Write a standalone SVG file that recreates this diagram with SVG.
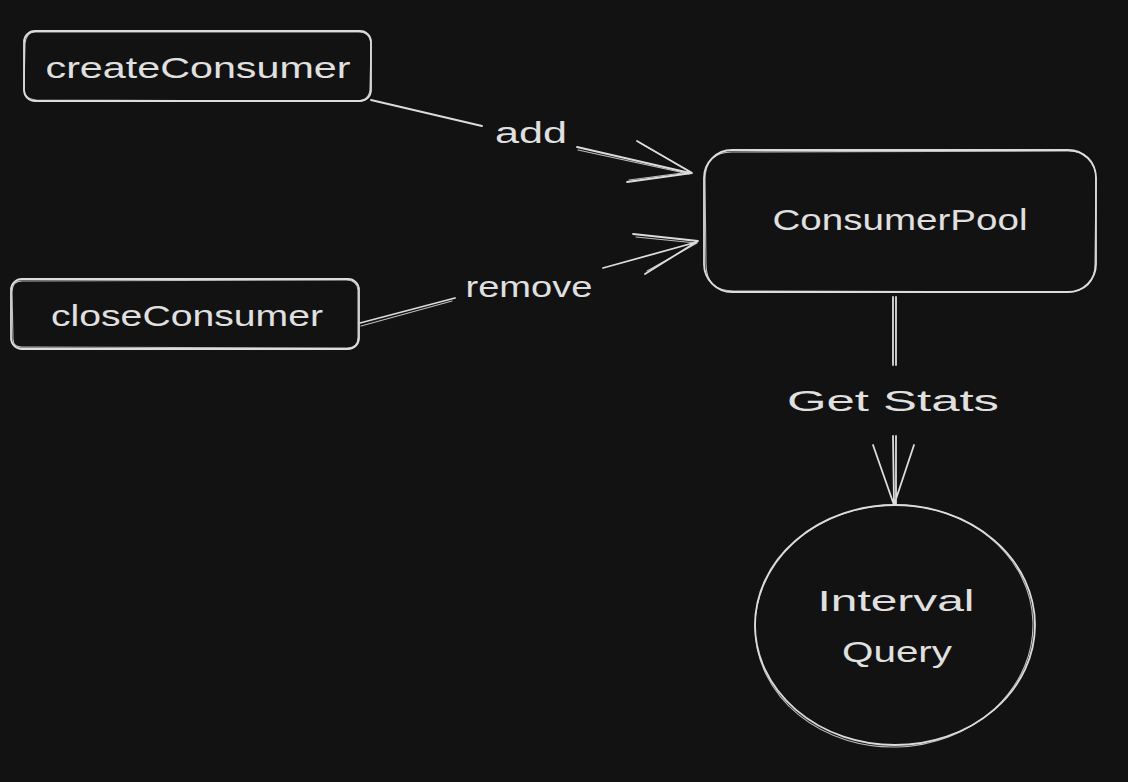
<svg xmlns="http://www.w3.org/2000/svg" width="1128" height="782" viewBox="0 0 1128 782">
<style>
.bg{fill:#121212}
.s{fill:none;stroke:#dcdcdc;stroke-width:1.8;stroke-linecap:round;stroke-linejoin:round}
.s2{fill:none;stroke:#dcdcdc;stroke-width:1.1;stroke-linecap:round;stroke-linejoin:round;opacity:.85}
.t{font-family:"Liberation Sans",Arial,sans-serif;fill:#e0e0e0;font-size:30px;text-anchor:middle;dominant-baseline:central}
</style>
<rect class="bg" x="0" y="0" width="1128" height="782"/>
<g id="createConsumer">
<rect class="s" x="24" y="31" width="347" height="70" rx="11"/>
<path class="s2" d="M35 32 Q26 32 25 44 L24 90 Q25 99 36 100 L358 101 Q370 100 370 88 L371 44 Q370 31 357 32 Z"/>
<text class="t" x="198" y="67" textLength="305" lengthAdjust="spacingAndGlyphs">createConsumer</text>
</g>
<g id="closeConsumer">
<rect class="s" x="11" y="279" width="348" height="70" rx="11"/>
<path class="s2" d="M22 281 Q12 281 12 292 L13 339 Q13 348 24 347 L347 348 Q358 348 358 337 L358 290 Q357 280 346 280 Z"/>
<text class="t" x="187" y="315" textLength="272" lengthAdjust="spacingAndGlyphs">closeConsumer</text>
</g>
<g id="ConsumerPool">
<rect class="s" x="704" y="150" width="392" height="142" rx="28"/>
<path class="s2" d="M732 152 Q705 152 705 180 L706 264 Q706 291 734 291 L1068 292 Q1095 291 1095 264 L1096 178 Q1095 151 1068 151 Z"/>
<text class="t" x="900" y="219" textLength="255" lengthAdjust="spacingAndGlyphs">ConsumerPool</text>
</g>
<g id="IntervalQuery">
<ellipse class="s" cx="895" cy="625" rx="140" ry="120"/>
<ellipse class="s2" cx="894" cy="626" rx="139" ry="121" transform="rotate(-2 894 626)"/>
<text class="t" x="896" y="600" textLength="157" lengthAdjust="spacingAndGlyphs">Interval</text>
<text class="t" x="897" y="651" textLength="110" lengthAdjust="spacingAndGlyphs">Query</text>
</g>
<g id="connectors">
<path class="s" d="M371 100 L482 126"/>
<path class="s" d="M577 147 L690 173 M637 141 L692 173 L627 182"/>
<path class="s2" d="M578 150 L689 174 M640 143 L691 172 M629 180 L690 172"/>
<text class="t" x="531" y="132" textLength="72" lengthAdjust="spacingAndGlyphs">add</text>
<path class="s" d="M360 323 L455 298"/>
<path class="s2" d="M361 326 L452 301"/>
<path class="s" d="M603 268 L697 242 M633 234 L698 241 L645 274"/>
<path class="s2" d="M636 237 L696 243 M647 271 L697 243"/>
<text class="t" x="529" y="286" textLength="127" lengthAdjust="spacingAndGlyphs">remove</text>
<path class="s" d="M893 297 L893 365 M896 297 L896 365"/>
<path class="s" d="M893 436 L894 505 M896 436 L896 505 M873 445 L894 505 L914 445"/>
<text class="t" x="893" y="400" textLength="212" lengthAdjust="spacingAndGlyphs">Get Stats</text>
</g>
</svg>
